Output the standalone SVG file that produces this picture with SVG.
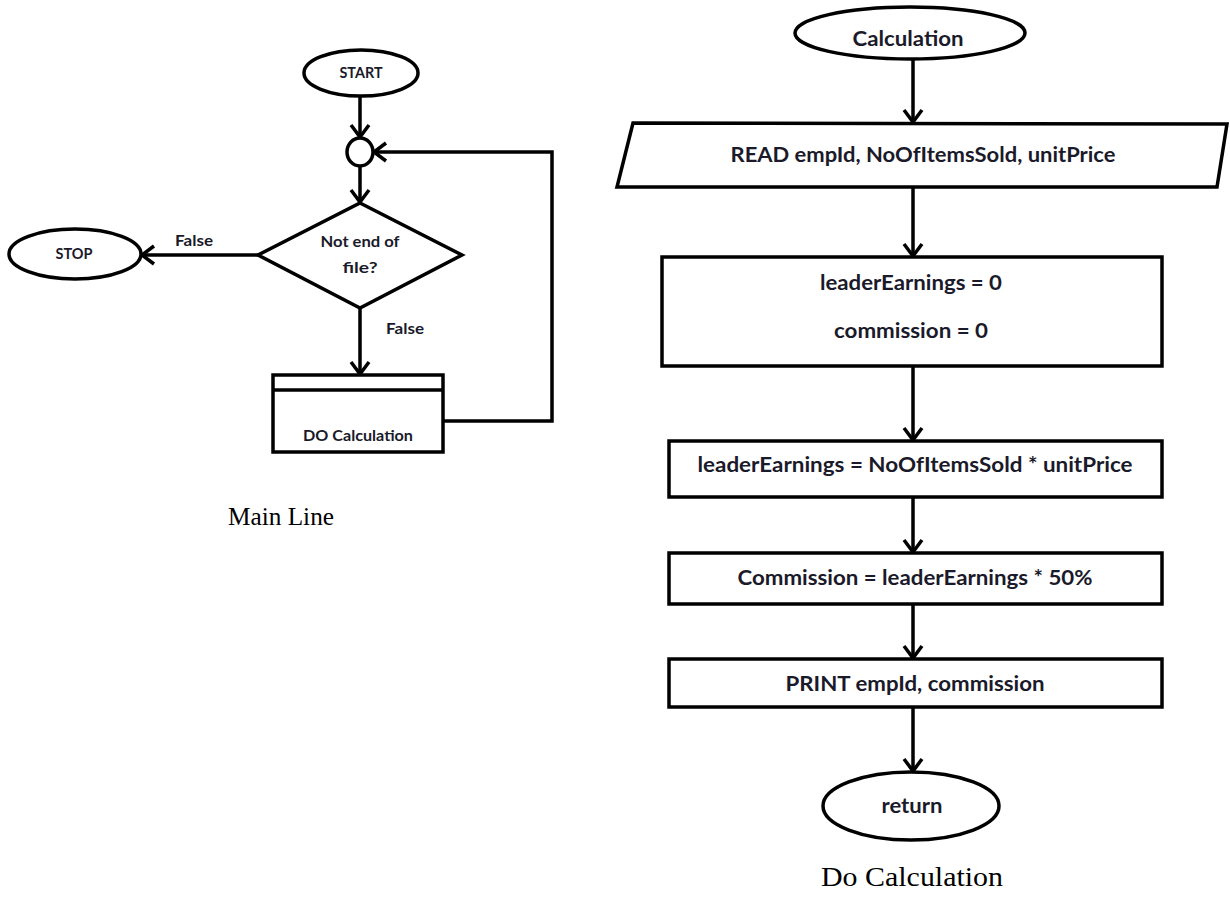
<svg xmlns="http://www.w3.org/2000/svg" width="1230" height="915" viewBox="0 0 1230 915">
<style>
.sh{fill:#fff;stroke:#000;stroke-width:3.5}
.ln{fill:none;stroke:#000;stroke-width:3.5}
.t{font-family:Lato,"Open Sans","Liberation Sans",sans-serif;font-weight:bold;fill:#1a1a2a;text-anchor:middle}
.s{font-size:16px}
.m{font-size:21px}
.cap{font-family:"Liberation Serif","Times New Roman",serif;fill:#000;text-anchor:middle}
</style>
<defs>
<marker id="ah" markerUnits="userSpaceOnUse" markerWidth="30" markerHeight="30" viewBox="-15 -15 30 30" refX="0" refY="0" orient="auto" overflow="visible">
<path d="M-12,-9 L0,0 L-12,9" fill="none" stroke="#000" stroke-width="3.5" stroke-linejoin="miter"/>
</marker>
</defs>
<rect width="1230" height="915" fill="#fff"/>

<g id="connectors">
<line class="ln" x1="360" y1="96" x2="360" y2="137" marker-end="url(#ah)"/>
<line class="ln" x1="360" y1="166" x2="360" y2="202" marker-end="url(#ah)"/>
<line class="ln" x1="258" y1="255" x2="142" y2="255" marker-end="url(#ah)"/>
<line class="ln" x1="360" y1="308" x2="360" y2="374" marker-end="url(#ah)"/>
<polyline class="ln" points="444,421 552,421 552,152 374,152" marker-end="url(#ah)"/>
<line class="ln" x1="913" y1="59" x2="913" y2="122" marker-end="url(#ah)"/>
<line class="ln" x1="913" y1="188" x2="913" y2="256" marker-end="url(#ah)"/>
<line class="ln" x1="913" y1="367" x2="913" y2="440" marker-end="url(#ah)"/>
<line class="ln" x1="913" y1="497" x2="913" y2="552" marker-end="url(#ah)"/>
<line class="ln" x1="913" y1="604" x2="913" y2="658" marker-end="url(#ah)"/>
<line class="ln" x1="913" y1="707" x2="913" y2="771" marker-end="url(#ah)"/>
<text class="t s" x="194" y="246" textLength="38" lengthAdjust="spacingAndGlyphs">False</text>
<text class="t s" x="405" y="334" textLength="38" lengthAdjust="spacingAndGlyphs">False</text>
</g>

<g id="start">
<ellipse class="sh" cx="361" cy="73" rx="57" ry="23"/>
<text class="t s" x="361" y="78" textLength="43" lengthAdjust="spacingAndGlyphs">START</text>
</g>
<g id="connector-circle">
<ellipse class="sh" cx="360" cy="152" rx="13" ry="14"/>
</g>
<g id="decision">
<polygon class="sh" points="360,203 462,255 360,308 258,255"/>
<text class="t s" x="360" y="247" textLength="79" lengthAdjust="spacingAndGlyphs">Not end of</text>
<text class="t s" x="360" y="273" textLength="35" lengthAdjust="spacingAndGlyphs">file?</text>
</g>
<g id="stop">
<ellipse class="sh" cx="75" cy="254" rx="66" ry="25"/>
<text class="t s" x="74" y="259" textLength="37" lengthAdjust="spacingAndGlyphs">STOP</text>
</g>
<g id="do-calculation">
<rect class="sh" x="273" y="375" width="170" height="77"/>
<line class="ln" x1="273" y1="390" x2="443" y2="390"/>
<text class="t s" x="358" y="441" textLength="110" lengthAdjust="spacingAndGlyphs">DO Calculation</text>
</g>
<text class="cap" x="281" y="525" font-size="25" textLength="106" lengthAdjust="spacingAndGlyphs">Main Line</text>

<g id="calculation">
<ellipse class="sh" cx="910" cy="33" rx="115" ry="26"/>
<text class="t m" x="908" y="46" textLength="111" lengthAdjust="spacingAndGlyphs">Calculation</text>
</g>
<g id="read">
<polygon class="sh" points="633,123 1227,124 1217,187 617,187"/>
<text class="t m" x="923" y="162" textLength="385" lengthAdjust="spacingAndGlyphs">READ empId, NoOfItemsSold, unitPrice</text>
</g>
<g id="init">
<rect class="sh" x="662" y="257" width="500" height="109"/>
<text class="t m" x="911" y="290" textLength="182" lengthAdjust="spacingAndGlyphs">leaderEarnings = 0</text>
<text class="t m" x="911" y="338" textLength="154" lengthAdjust="spacingAndGlyphs">commission = 0</text>
</g>
<g id="earnings">
<rect class="sh" x="669" y="441" width="493" height="56"/>
<text class="t m" x="915" y="472" textLength="435" lengthAdjust="spacingAndGlyphs">leaderEarnings = NoOfItemsSold * unitPrice</text>
</g>
<g id="commission">
<rect class="sh" x="669" y="553" width="493" height="51"/>
<text class="t m" x="915" y="585" textLength="355" lengthAdjust="spacingAndGlyphs">Commission = leaderEarnings * 50%</text>
</g>
<g id="print">
<rect class="sh" x="669" y="659" width="493" height="48"/>
<text class="t m" x="915" y="691" textLength="259" lengthAdjust="spacingAndGlyphs">PRINT empId, commission</text>
</g>
<g id="return">
<ellipse class="sh" cx="911" cy="806" rx="88" ry="34"/>
<text class="t m" x="912" y="813" textLength="61" lengthAdjust="spacingAndGlyphs">return</text>
</g>
<text class="cap" x="912" y="886" font-size="27" textLength="182" lengthAdjust="spacingAndGlyphs">Do Calculation</text>
</svg>
